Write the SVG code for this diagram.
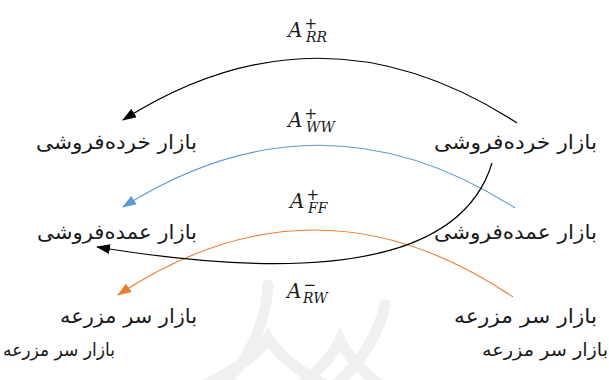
<svg xmlns="http://www.w3.org/2000/svg" width="609" height="380" viewBox="0 0 609 380">
<style>
.lbl{font-family:"DejaVu Sans",sans-serif;font-size:20px;fill:#1a1a1a;text-anchor:end}
.lbl2{font-family:"DejaVu Sans",sans-serif;font-size:18px;fill:#1a1a1a;text-anchor:end}
.m{font-family:"DejaVu Serif",serif;font-style:italic;font-size:20px;fill:#1a1a1a}
.s{font-size:14px}
.p{font-family:"DejaVu Sans",sans-serif;font-style:normal;font-size:15px}
.wm{fill:none;stroke:#f0f0f0;stroke-width:11;stroke-linecap:round}
</style>
<defs>
<marker id="ab" viewBox="0 0 14 10" refX="13" refY="5" markerWidth="14" markerHeight="10" markerUnits="userSpaceOnUse" orient="auto"><path d="M0,0L14,5L0,10z" fill="#000"/></marker>
<marker id="abl" viewBox="0 0 14 10" refX="13" refY="5" markerWidth="14" markerHeight="10" markerUnits="userSpaceOnUse" orient="auto"><path d="M0,0L14,5L0,10z" fill="#5B9BD5"/></marker>
<marker id="aor" viewBox="0 0 14 10" refX="13" refY="5" markerWidth="14" markerHeight="10" markerUnits="userSpaceOnUse" orient="auto"><path d="M0,0L14,5L0,10z" fill="#ED7D31"/></marker>
</defs>
<g id="watermark">
<path class="wm" d="M268,285 Q264,345 222,385"/>
<path class="wm" d="M385,305 Q375,350 335,385"/>
<path class="wm" d="M205,385 Q255,360 268,338 Q282,362 325,385"/>
<path class="wm" d="M300,385 Q330,362 340,340 Q350,362 380,385"/>
</g>
<g id="connectors" fill="none">
<path d="M517,123 Q320,-5 123,120" stroke="#000" stroke-width="1.2" marker-end="url(#ab)"/>
<path d="M515,208 Q320,83 123,207" stroke="#5B9BD5" stroke-width="1.1" marker-end="url(#abl)"/>
<path d="M513,297 Q316,164 118,295" stroke="#ED7D31" stroke-width="1.1" marker-end="url(#aor)"/>
<path d="M492,163 C455,285 250,272 97,247" stroke="#000" stroke-width="1.2" marker-end="url(#ab)"/>
</g>
<g id="label-RR"><text class="m" x="288" y="37">A<tspan class="p" dx="2" dy="-8">+</tspan><tspan class="s" dx="-11" dy="13">RR</tspan></text></g>
<g id="label-WW"><text class="m" x="288" y="127">A<tspan class="p" dx="2" dy="-8">+</tspan><tspan class="s" dx="-11" dy="13">WW</tspan></text></g>
<g id="label-FF"><text class="m" x="290" y="208">A<tspan class="p" dx="2" dy="-8">+</tspan><tspan class="s" dx="-11" dy="13">FF</tspan></text></g>
<g id="label-RW"><text class="m" x="287" y="298">A<tspan class="p" dx="2" dy="-8">−</tspan><tspan class="s" dx="-13" dy="13">RW</tspan></text></g>
<g id="retail-left"><text class="lbl" x="197" y="149" textLength="161" lengthAdjust="spacingAndGlyphs">بازار خرده‌فروشی</text></g>
<g id="retail-right"><text class="lbl" x="597" y="149" textLength="163" lengthAdjust="spacingAndGlyphs">بازار خرده‌فروشی</text></g>
<g id="wholesale-left"><text class="lbl" x="197" y="239" textLength="160" lengthAdjust="spacingAndGlyphs">بازار عمده‌فروشی</text></g>
<g id="wholesale-right"><text class="lbl" x="597" y="239" textLength="163" lengthAdjust="spacingAndGlyphs">بازار عمده‌فروشی</text></g>
<g id="farm-left"><text class="lbl" x="197" y="323" textLength="137" lengthAdjust="spacingAndGlyphs">بازار سر مزرعه</text></g>
<g id="farm-right"><text class="lbl" x="597" y="323" textLength="143" lengthAdjust="spacingAndGlyphs">بازار سر مزرعه</text></g>
<g id="farm-left-2"><text class="lbl2" x="115" y="356" textLength="112" lengthAdjust="spacingAndGlyphs">بازار سر مزرعه</text></g>
<g id="farm-right-2"><text class="lbl2" x="608" y="356" textLength="126" lengthAdjust="spacingAndGlyphs">بازار سر مزرعه</text></g>
</svg>
